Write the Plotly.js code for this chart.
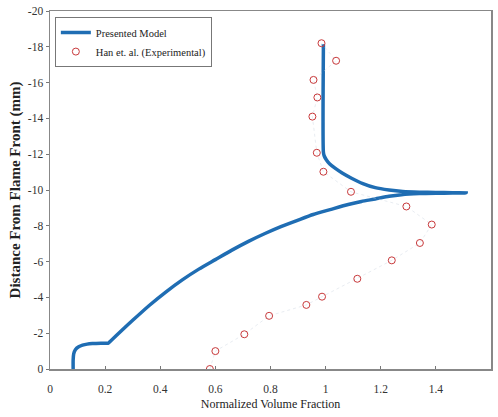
<!DOCTYPE html>
<html>
<head>
<meta charset="utf-8">
<script src="https://cdn.plot.ly/plotly-3.0.1.min.js"></script>
<style>html,body{margin:0;padding:0;background:#fff;}#chart{width:498px;height:417px;}</style>
</head>
<body>
<div id="chart"></div>
<script>
// Presented Model curve (from flame front bottom to top)
var modelX = [0.084, 0.084, 0.086, 0.092, 0.104, 0.118, 0.135, 0.154, 0.185, 0.205, 0.212, 0.22, 0.26, 0.30, 0.36, 0.42, 0.48, 0.54, 0.60, 0.66, 0.72, 0.78, 0.84, 0.90, 0.955, 1.02, 1.082, 1.13, 1.18, 1.23, 1.275, 1.34, 1.40, 1.46, 1.51,
              1.46, 1.40, 1.34, 1.28, 1.23, 1.18, 1.135, 1.094, 1.06, 1.034, 1.015, 1.003, 0.995, 0.992, 0.992];
var modelY = [0, -0.5, -0.85, -1.08, -1.24, -1.33, -1.39, -1.42, -1.44, -1.445, -1.45, -1.56, -2.15, -2.72, -3.55, -4.3, -4.98, -5.58, -6.11, -6.64, -7.13, -7.57, -7.97, -8.32, -8.63, -8.92, -9.19, -9.36, -9.50, -9.65, -9.74, -9.80, -9.82, -9.83, -9.84,
              -9.85, -9.86, -9.88, -9.92, -10.0, -10.13, -10.36, -10.66, -10.95, -11.22, -11.45, -11.68, -11.9, -12.1, -18.15];

// Han et. al. (Experimental)
var expX = [0.58, 0.60, 0.705, 0.795, 0.93, 0.987, 1.115, 1.24, 1.342, 1.385, 1.293, 1.092, 0.992, 0.968, 0.952, 0.97, 0.956, 1.038, 0.985];
var expY = [0, -1.0, -1.94, -2.97, -3.58, -4.04, -5.04, -6.07, -7.04, -8.07, -9.08, -9.9, -11.02, -12.08, -14.1, -15.17, -16.15, -17.22, -18.2];

var yTickVals = [0, -2, -4, -6, -8, -10, -12, -14, -16, -18, -20];
var yTickText = ['0', '-2', '-4', '-6', '-8', '-10', '-12', '-14', '-16', '-18', '-20'];
var xTickVals = [0, 0.2, 0.4, 0.6, 0.8, 1.0, 1.2, 1.4, 1.6];
var xTickText = ['0', '0.2', '0.4', '0.6', '0.8', '1', '1.2', '1.4', '1.6'];

var serif = 'Liberation Serif, Times New Roman, serif';

var traces = [
  {
    x: modelX, y: modelY, mode: 'lines', name: 'Presented Model',
    line: {color: '#1f6db3', width: 3.5, shape: 'spline', smoothing: 0.6}
  },
  {
    x: expX, y: expY, mode: 'lines', showlegend: false, hoverinfo: 'skip',
    line: {color: 'rgba(205,212,225,0.45)', width: 1, dash: 'dot'}
  },
  {
    x: expX, y: expY, mode: 'markers', name: 'Han et. al. (Experimental)',
    marker: {symbol: 'circle-open', size: 7, color: '#c8393b', line: {width: 1, color: '#c8393b'}}
  }
];

var layout = {
  width: 498, height: 417,
  margin: {l: 50, r: 7, t: 11, b: 48},
  paper_bgcolor: '#fff', plot_bgcolor: '#fff',
  font: {family: serif, size: 11, color: '#222'},
  showlegend: true,
  legend: {
    x: 0.011, y: 0.983, xanchor: 'left', yanchor: 'top',
    bgcolor: '#fff', bordercolor: '#777', borderwidth: 1,
    font: {family: serif, size: 10.5, color: '#222'},
    tracegroupgap: 0
  },
  xaxis: {
    range: [0, 1.6], tickvals: xTickVals, ticktext: xTickText,
    ticks: 'inside', ticklen: 3, tickcolor: '#777', tickwidth: 1,
    showline: true, linecolor: '#888', linewidth: 1.5, mirror: true,
    showgrid: false, zeroline: false,
    ticklabelstandoff: 9,
    tickfont: {family: serif, size: 11.5, color: '#333'},
    title: {text: 'Normalized Volume Fraction', font: {family: serif, size: 12, color: '#222'}, standoff: 5}
  },
  yaxis: {
    range: [0, -20], tickvals: yTickVals, ticktext: yTickText,
    ticks: 'outside', ticklen: 3, tickcolor: '#777', tickwidth: 1,
    showline: true, linecolor: '#888', linewidth: 1.5, mirror: true,
    showgrid: false, zeroline: false,
    tickfont: {family: serif, size: 11.5, color: '#333'},
    title: {text: '<b>Distance From Flame Front (mm)</b>', font: {family: serif, size: 15, color: '#222'}, standoff: 3}
  }
};

Plotly.newPlot('chart', traces, layout, {displayModeBar: false, staticPlot: true});
</script>
</body>
</html>
